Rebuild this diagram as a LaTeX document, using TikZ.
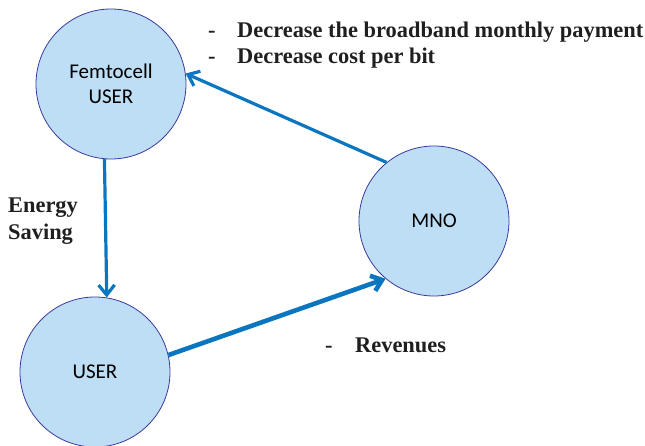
\documentclass[tikz,border=0pt]{standalone}
\usepackage{xcolor}
\usepackage{fontspec}
\usetikzlibrary{arrows.meta}
\newfontfamily\actorfont{Carlito}
\newfontfamily\notefont{Liberation Serif}
\definecolor{actorfill}{RGB}{189,222,244}
\definecolor{actorline}{RGB}{58,58,156}
\definecolor{flow}{RGB}{10,118,192}
\tikzstyle{actor}=[minimum size=150pt,inner sep=0pt,circle,draw=actorline,line width=0.8pt,fill=actorfill,align=center,font=\actorfont\fontsize{21}{25}\selectfont]
\tikzset{flowline/.style={-{Straight Barb[length=10pt,width=16pt]},line width=3.2pt,color=flow}}
\tikzset{note/.style={anchor=base west,inner sep=0pt,font=\notefont\bfseries\fontsize{22.4}{26}\selectfont,text=black!88}}
\newcommand{\dashitem}{\makebox[29pt][l]{-}}

\begin{document}
\begin{tikzpicture}[x=1pt,y=-1pt]
  \useasboundingbox (0,0) rectangle (645,446);
  \draw (111,84) node[actor] (FU) {Femtocell\\USER};
  \draw (434,221) node[actor] (MNO) {MNO};
  \draw (95,372) node[actor] (U) {USER};

  \draw[flowline] (MNO.129) -- (FU.8);
  \draw[flowline] (FU.-95) -- (U.81);
  \draw[flowline,line width=4.6pt] (U.13) -- (MNO.230);

  %% Notes
  \draw (208,38) node[note] (D1) {\dashitem Decrease the broadband monthly payment};
  \draw (208,64) node[note] (D2) {\dashitem Decrease cost per bit};
  \draw (8,213) node[note] (E1) {Energy};
  \draw (8,240) node[note] (E2) {Saving};
  \draw (325,352) node[note] (R1) {\makebox[30pt][l]{-}Revenues};
\end{tikzpicture}
\end{document}
